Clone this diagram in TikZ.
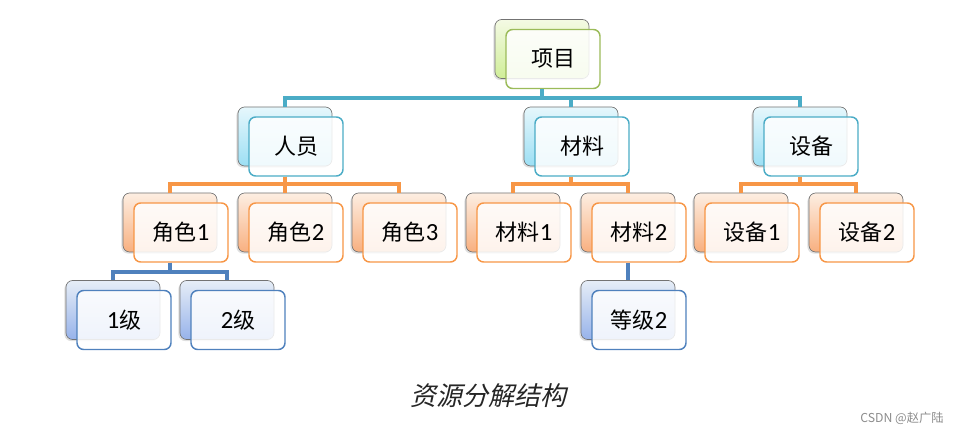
\documentclass[tikz,border=0pt]{standalone}
\usepackage{fontspec}
\setmainfont{Carlito}
\newfontfamily\cjk{Noto Sans CJK SC}
\newfontfamily\cjkit[FakeSlant=0.22]{Noto Sans CJK SC}
\usetikzlibrary{calc,shadows}
\definecolor{tealC}{HTML}{4BACC6}
\definecolor{orangeC}{HTML}{F79646}
\definecolor{blueC}{HTML}{4F81BD}
\definecolor{greenC}{HTML}{9BBB59}
\definecolor{tealT}{HTML}{E6F7FC}
\definecolor{tealB}{HTML}{9CDFF4}
\definecolor{orangeT}{HTML}{FDEEE2}
\definecolor{orangeB}{HTML}{F8B080}
\definecolor{blueT}{HTML}{E6EDF7}
\definecolor{blueB}{HTML}{97B3EA}
\definecolor{greenT}{HTML}{F4FAE4}
\definecolor{greenB}{HTML}{D0EE98}
\tikzset{
  basebox/.style={rounded corners=5pt, minimum width=70.5pt, minimum height=44.25pt, inner sep=0pt},
  backbase/.style={basebox, draw=black!55, line width=0.5pt,
    drop shadow={shadow xshift=-1.2pt, shadow yshift=-1.2pt, opacity=0.25}},
  frontbase/.style={basebox, fill=white, fill opacity=0.85, text opacity=1, line width=1.1pt,
    font=\fontsize{16.5}{19}\selectfont},
  tealback/.style={backbase, top color=tealT, bottom color=tealB},
  orangeback/.style={backbase, top color=orangeT, bottom color=orangeB},
  blueback/.style={backbase, top color=blueT, bottom color=blueB},
  greenback/.style={backbase, top color=greenT, bottom color=greenB},
  tealfront/.style={frontbase, draw=tealC},
  orangefront/.style={frontbase, draw=orangeC},
  bluefront/.style={frontbase, draw=blueC},
  greenfront/.style={frontbase, draw=greenC},
  conn/.style={line width=3pt, line cap=butt, line join=miter},
  tealline/.style={conn, draw=tealC},
  orangeline/.style={conn, draw=orangeC},
  blueline/.style={conn, draw=blueC},
}
\newcommand\dg[1]{{\fontsize{18.5}{19}\selectfont #1}}
\newcommand\boxpair[5]{%
  \node[#4back] (#1b) at (#2,#3) {};
  \node[#4front] (#1) at ($(#2,#3)+(11,10)$) {#5};
}
\begin{document}
\begin{tikzpicture}[x=0.75pt,y=-0.75pt]
\useasboundingbox (0,0) rectangle (968,434);
\coordinate (busA) at (0,98.5);
\coordinate (busB) at (0,184);
\coordinate (busC) at (0,272);

% boxes
\boxpair{xm}{542}{49}{green}{\cjk 项目}
\boxpair{ry}{285}{136.5}{teal}{\cjk 人员}
\boxpair{cl}{571}{136.5}{teal}{\cjk 材料}
\boxpair{sb}{800}{136.5}{teal}{\cjk 设备}
\boxpair{js1}{170}{222.5}{orange}{{\cjk 角色}\dg{1}}
\boxpair{js2}{285}{222.5}{orange}{{\cjk 角色}\dg{2}}
\boxpair{js3}{399}{222.5}{orange}{{\cjk 角色}\dg{3}}
\boxpair{cl1}{513}{222.5}{orange}{{\cjk 材料}\dg{1}}
\boxpair{cl2}{628}{222.5}{orange}{{\cjk 材料}\dg{2}}
\boxpair{sb1}{741}{222.5}{orange}{{\cjk 设备}\dg{1}}
\boxpair{sb2}{856}{222.5}{orange}{{\cjk 设备}\dg{2}}
\boxpair{jb1}{113}{310}{blue}{\dg{1}{\cjk 级}}
\boxpair{jb2}{227}{310}{blue}{\dg{2}{\cjk 级}}
\boxpair{dj2}{628}{310}{blue}{{\cjk 等级}\dg{2}}

% connectors
\foreach \c in {ry,cl,sb}
  \draw[tealline] (xmb |- xm.south) -- (xmb |- busA) -| (\c b.north);
\foreach \c in {js1,js2,js3}
  \draw[orangeline] (ryb |- ry.south) -- (ryb |- busB) -| (\c b.north);
\foreach \c in {cl1,cl2}
  \draw[orangeline] (clb |- cl.south) -- (clb |- busB) -| (\c b.north);
\foreach \c in {sb1,sb2}
  \draw[orangeline] (sbb |- sb.south) -- (sbb |- busB) -| (\c b.north);
\foreach \c in {jb1,jb2}
  \draw[blueline] (js1b |- js1.south) -- (js1b |- busC) -| (\c b.north);
\draw[blueline] (cl2b |- cl2.south) -- (dj2b.north);

% caption and watermark
\node[font=\cjkit\fontsize{19.5}{22}\selectfont, text=black!85] (cap) at (488,396) {资源分解结构};
\node[font=\cjk\fontsize{9.2}{11}\selectfont, text=black!45] (wm) at (902,418) {CSDN @赵广陆};
\end{tikzpicture}
\end{document}
